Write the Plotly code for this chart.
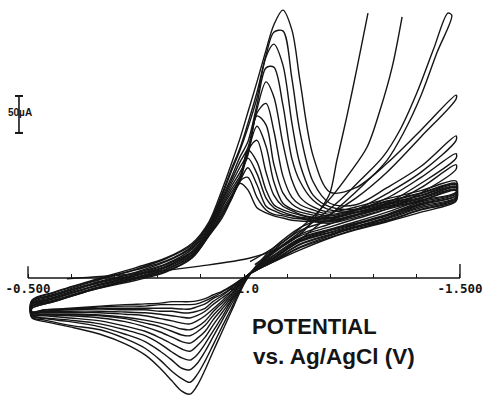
import plotly.graph_objects as go

# Potentials (V) at which the forward (cathodic) and reverse (anodic) sweeps were read
FWD_E = [-0.509, -0.560, -0.650, -0.750, -0.819, -0.880, -0.919, -0.949, -0.970, -0.991,
         -1.009, -1.030, -1.051, -1.069, -1.090, -1.111, -1.130, -1.160, -1.199, -1.259,
         -1.331, -1.410, -1.491]
REV_E = [-1.491, -1.410, -1.331, -1.259, -1.199, -1.130, -1.069, -1.030, -1.009, -0.991,
         -0.970, -0.949, -0.928, -0.910, -0.891, -0.875, -0.856, -0.833, -0.806, -0.771,
         -0.725, -0.667, -0.597, -0.539, -0.509]

# Currents (uA), one list per scan-rate cycle (smallest -> largest)
FWD_I = [
    [-41, -32, -16, -3, 8, 27, 57, 81, 105, 128, 119, 95, 88, 84, 81, 78, 77, 76, 74, 82, 93, 104, 118],
    [-41, -32, -16, -1, 9, 28, 58, 84, 107, 131, 136, 109, 92, 86, 84, 81, 80, 77, 76, 84, 95, 105, 119],
    [-39, -31, -15, -1, 9, 28, 58, 86, 107, 131, 149, 126, 97, 91, 86, 84, 81, 78, 77, 85, 96, 107, 120],
    [-39, -31, -15, 0, 11, 30, 59, 89, 108, 132, 162, 141, 108, 95, 89, 85, 82, 80, 78, 86, 97, 108, 122],
    [-38, -30, -14, 0, 12, 31, 61, 92, 111, 134, 173, 157, 119, 99, 92, 88, 85, 81, 80, 88, 99, 109, 123],
    [-38, -28, -12, 1, 14, 32, 62, 95, 115, 135, 172, 186, 143, 112, 97, 91, 86, 82, 81, 89, 100, 111, 124],
    [-36, -28, -12, 3, 15, 34, 64, 97, 119, 138, 170, 205, 178, 130, 101, 93, 89, 85, 82, 91, 101, 112, 126],
    [-36, -27, -11, 4, 16, 35, 65, 100, 123, 143, 166, 219, 207, 154, 115, 100, 93, 88, 84, 92, 103, 114, 127],
    [-35, -26, -9, 5, 18, 36, 66, 103, 127, 150, 169, 223, 236, 199, 138, 109, 99, 92, 86, 93, 104, 115, 128],
    [-34, -24, -8, 7, 19, 39, 68, 105, 131, 157, 176, 228, 265, 245, 182, 132, 109, 96, 89, 96, 107, 118, 131],
    [-32, -23, -7, 8, 22, 41, 70, 108, 135, 164, 184, 234, 284, 285, 234, 161, 130, 105, 92, 89, 99, 122, 153],
    [-32, -22, -5, 11, 23, 43, 72, 111, 143, 173, 203, 243, 299, 316, 288, 209, 153, 112, 96, 93, 108, 136, 168],
    [-31, -20, -4, 12, 26, 45, 74, 114, 146, 176, 209, 251, 301, 332, 334, 269, 196, 130, 101, 99, 122, 151, 192],
    [-30, -19, -3, 14, 27, 47, 76, 119, 153, 189, 224, 265, 308, 342, 362, 335, 265, 165, 116, 122, 155, 200, 247],
]
REV_I = [
    [104, 89, 76, 65, 54, 38, 22, 11, 4, -3, -11, -18, -23, -28, -31, -32, -32, -32, -34, -35, -36, -38, -41, -43, -46],
    [105, 92, 77, 66, 55, 41, 22, 11, 4, -3, -12, -19, -26, -31, -35, -36, -36, -36, -36, -38, -38, -39, -42, -43, -46],
    [107, 93, 78, 68, 57, 42, 23, 11, 4, -4, -14, -22, -28, -35, -39, -42, -42, -41, -41, -41, -41, -41, -42, -45, -46],
    [108, 95, 80, 69, 58, 45, 24, 12, 4, -4, -15, -24, -32, -41, -45, -47, -47, -45, -45, -43, -43, -42, -43, -45, -47],
    [109, 97, 81, 69, 59, 46, 24, 12, 4, -5, -18, -27, -36, -45, -51, -54, -53, -51, -49, -47, -46, -45, -45, -46, -47],
    [111, 99, 82, 70, 61, 49, 26, 12, 4, -7, -19, -31, -42, -51, -58, -62, -61, -58, -55, -51, -49, -47, -47, -47, -47],
    [112, 100, 84, 72, 62, 50, 27, 14, 4, -8, -22, -34, -46, -58, -66, -70, -69, -65, -61, -57, -53, -50, -49, -49, -49],
    [114, 101, 85, 73, 64, 51, 28, 14, 3, -8, -24, -38, -51, -64, -73, -78, -77, -72, -66, -61, -55, -51, -50, -49, -49],
    [115, 103, 86, 74, 65, 53, 30, 14, 3, -9, -27, -42, -57, -72, -82, -88, -86, -80, -73, -66, -59, -54, -51, -50, -50],
    [116, 105, 89, 76, 66, 54, 31, 15, 3, -11, -30, -47, -64, -80, -92, -99, -96, -89, -81, -72, -65, -58, -54, -51, -50],
    [147, 115, 93, 80, 69, 57, 34, 15, 3, -14, -32, -53, -72, -89, -104, -111, -108, -100, -89, -78, -70, -62, -57, -54, -51],
    [162, 128, 101, 85, 73, 59, 35, 16, 1, -15, -36, -58, -80, -99, -116, -124, -122, -111, -99, -86, -76, -66, -59, -55, -51],
    [186, 143, 114, 92, 78, 64, 38, 16, 1, -16, -42, -66, -91, -112, -131, -141, -136, -126, -111, -95, -82, -70, -64, -57, -53],
    [242, 191, 143, 108, 86, 68, 41, 18, 1, -19, -46, -73, -100, -124, -146, -157, -153, -139, -122, -104, -89, -76, -66, -59, -54],
]

# Early sweeps running off-scale at negative potentials
SCAN_A_E = [-0.590, -0.736, -0.898, -1.014, -1.083, -1.141, -1.176, -1.199, -1.215, -1.238, -1.262, -1.287]
SCAN_A_I = [-1, 5, 16, 27, 41, 65, 92, 115, 159, 218, 285, 358]
SCAN_B_E = [-1.014, -1.095, -1.164, -1.206, -1.245, -1.285, -1.315, -1.343, -1.366]
SCAN_B_I = [22, 51, 85, 112, 142, 177, 227, 285, 353]
SCAN_C_E = [-1.025, -1.130, -1.222, -1.269, -1.322, -1.361, -1.400, -1.438, -1.472,
            -1.481, -1.447, -1.410, -1.370, -1.331, -1.280, -1.234, -1.141, -1.037]
SCAN_C_I = [18, 62, 105, 132, 164, 200, 250, 308, 358,
            355, 305, 247, 197, 159, 128, 103, 57, 14]

TICK_VALS = [-0.5, -0.6, -0.7, -0.8, -0.9, -1.0, -1.1, -1.2, -1.3, -1.4, -1.5]
TICK_TEXT = ["<b>-0.500</b>", "", "", "", "", "<b>-1.0</b>", "", "", "", "", "<b>-1.500</b>"]

INK = "#151515"
fig = go.Figure()
line = dict(color=INK, width=1.4, shape="spline", smoothing=0.9)

for fi, ri in zip(FWD_I, REV_I):
    xs = FWD_E + REV_E + [FWD_E[0]]
    ys = fi + ri + [fi[0]]
    fig.add_trace(go.Scatter(x=xs, y=ys, mode="lines", line=line, hoverinfo="skip"))

for xs, ys in [(SCAN_A_E, SCAN_A_I), (SCAN_B_E, SCAN_B_I), (SCAN_C_E, SCAN_C_I)]:
    fig.add_trace(go.Scatter(x=xs, y=ys, mode="lines", line=line, hoverinfo="skip"))

shapes = [
    # zero-current axis line and tall end ticks
    dict(type="line", xref="x", yref="y", x0=-0.5, x1=-1.5, y0=0, y1=0,
         line=dict(color=INK, width=1.4)),
    dict(type="line", xref="x", yref="y", x0=-0.5, x1=-0.5, y0=0, y1=16,
         line=dict(color=INK, width=1.4)),
    dict(type="line", xref="x", yref="y", x0=-1.5, x1=-1.5, y0=0, y1=19,
         line=dict(color=INK, width=1.4)),
    # 50 uA scale bar
    dict(type="line", xref="paper", yref="y", x0=-0.0114, x1=-0.0114, y0=196, y1=246,
         line=dict(color=INK, width=1.6)),
    dict(type="line", xref="paper", yref="y", x0=-0.0205, x1=-0.0023, y0=246, y1=246,
         line=dict(color=INK, width=2)),
    dict(type="line", xref="paper", yref="y", x0=-0.0205, x1=-0.0023, y0=196, y1=196,
         line=dict(color=INK, width=2)),
]

annotations = [
    dict(text="<b>50µA</b>", xref="paper", yref="y", x=-0.009, y=223, showarrow=False,
         font=dict(family="Liberation Sans", size=10, color=INK), xanchor="center", yanchor="middle"),
    dict(text="<b>POTENTIAL</b>", xref="paper", yref="paper", x=0.514, y=0.1755, showarrow=False,
         font=dict(family="Liberation Sans", size=22, color=INK), xanchor="left", yanchor="middle"),
    dict(text="<b>vs. Ag/AgCl (V)</b>", xref="paper", yref="paper", x=0.516, y=0.0985, showarrow=False,
         font=dict(family="Liberation Sans", size=22.5, color=INK), xanchor="left", yanchor="middle"),
]

fig.update_layout(
    width=489, height=396,
    margin=dict(l=24, r=25, t=0, b=0, autoexpand=False),
    paper_bgcolor="white", plot_bgcolor="white",
    showlegend=False,
    shapes=shapes, annotations=annotations,
    xaxis=dict(range=[-0.4907, -1.5093], showgrid=False, zeroline=False, showline=False,
               anchor="free", position=0.298, ticks="inside", ticklen=4, tickwidth=1.3,
               tickcolor=INK, tickvals=TICK_VALS, ticktext=TICK_TEXT, automargin=False,
               tickfont=dict(family="DejaVu Sans Mono", size=12.5, color=INK),
               ticklabelstandoff=2),
    yaxis=dict(range=[-159.5, 375.7], visible=False, showgrid=False, zeroline=False,
               automargin=False),
)

fig.write_html("out.html", config={"displayModeBar": False},
               post_script="document.body.style.margin='0px';")
